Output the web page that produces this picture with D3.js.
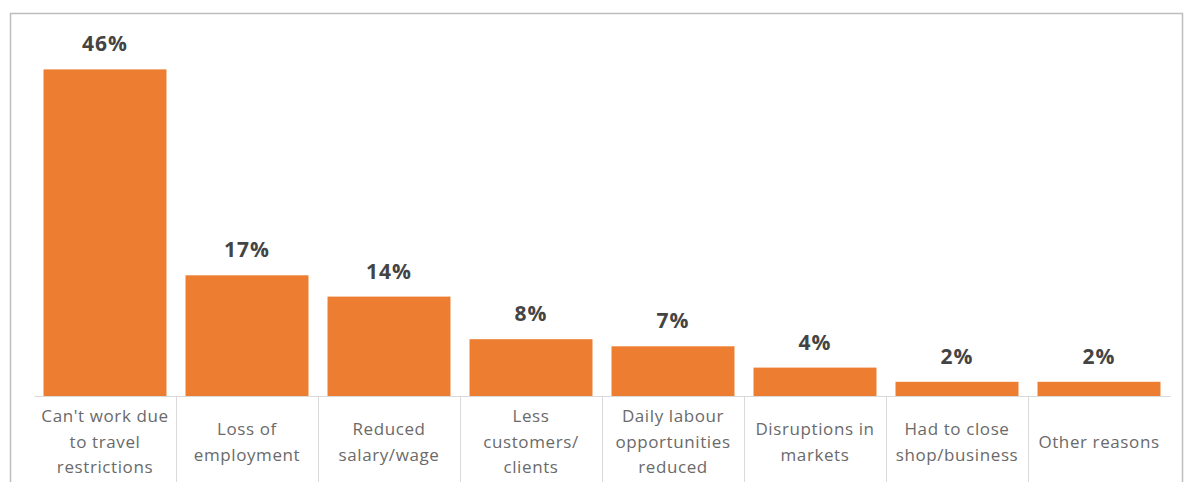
<!DOCTYPE html>
<html>
<head>
<meta charset="utf-8">
<script src="https://cdn.jsdelivr.net/npm/d3@7"></script>
<style>
  html, body { margin: 0; padding: 0; background: #ffffff; }
  svg { display: block; }
</style>
</head>
<body>
<svg id="chart" width="1184" height="482"></svg>
<script>
// Reasons for loss of income (share of respondents)
const categories = [
  "Can't work due\nto travel\nrestrictions",
  "Loss of\nemployment",
  "Reduced\nsalary/wage",
  "Less\ncustomers/\nclients",
  "Daily labour\nopportunities\nreduced",
  "Disruptions in\nmarkets",
  "Had to close\nshop/business",
  "Other reasons"
];
const values = [46, 17, 14, 8, 7, 4, 2, 2];
const valueLabels = ["46%", "17%", "14%", "8%", "7%", "4%", "2%", "2%"];
const yDomain = [0, 50];

const svg = d3.select("#chart");
const W = 1184, H = 482;

// Chart frame
svg.append("rect")
  .attr("x", 10.5).attr("y", 13.5)
  .attr("width", 1172).attr("height", H)
  .attr("fill", "#ffffff")
  .attr("stroke", "#bdbdbd")
  .attr("stroke-width", 1.5);

const plot = { left: 34, right: 1170, top: 41, bottom: 396 };

const x = d3.scaleBand()
  .domain(categories)
  .range([plot.left, plot.right])
  .paddingInner(0.134)
  .paddingOuter(0.067);

const y = d3.scaleLinear()
  .domain(yDomain)
  .range([plot.bottom, plot.top]);

// Bars
svg.append("g")
  .selectAll("rect")
  .data(values)
  .join("rect")
  .attr("x", (d, i) => x(categories[i]))
  .attr("y", d => y(d))
  .attr("width", x.bandwidth())
  .attr("height", d => y(0) - y(d))
  .attr("fill", "#ED7D31");

// Value labels above bars
svg.append("g")
  .selectAll("text")
  .data(values)
  .join("text")
  .attr("x", (d, i) => x(categories[i]) + x.bandwidth() / 2)
  .attr("y", d => y(d) - 18)
  .attr("text-anchor", "middle")
  .attr("font-family", "'Open Sans', sans-serif")
  .attr("font-weight", "bold")
  .attr("font-size", 21)
  .attr("letter-spacing", 1)
  .attr("fill", "#444444")
  .text((d, i) => valueLabels[i]);

// Category axis
const axis = d3.axisBottom(x).tickSize(0).tickFormat("");
const axisG = svg.append("g")
  .attr("transform", `translate(0,${plot.bottom})`)
  .call(axis);
axisG.select(".domain").attr("stroke", "#d9d9d9").attr("stroke-width", 1);

// Divider lines between categories
const step = x.step();
const gap = step * x.paddingInner();
svg.append("g")
  .selectAll("line")
  .data(categories.slice(1))
  .join("line")
  .attr("x1", d => Math.round(x(d) - gap / 2) + 0.5)
  .attr("x2", d => Math.round(x(d) - gap / 2) + 0.5)
  .attr("y1", plot.bottom)
  .attr("y2", H)
  .attr("stroke", "#d9d9d9")
  .attr("stroke-width", 1);

// Wrapped category labels, centred vertically under the axis
const lineH = 25.5;
const labelCenter = 442;
const labels = svg.append("g")
  .selectAll("text")
  .data(categories)
  .join("text")
  .attr("text-anchor", "middle")
  .attr("font-family", "'Open Sans', sans-serif")
  .attr("font-size", 17)
  .attr("letter-spacing", 0.6)
  .attr("fill", "#6a6a6a");

labels.each(function (d) {
  const lines = d.split("\n");
  const cx = x(d) + x.bandwidth() / 2;
  const y0 = labelCenter - (lines.length - 1) / 2 * lineH;
  d3.select(this).selectAll("tspan")
    .data(lines)
    .join("tspan")
    .attr("x", cx)
    .attr("y", (l, j) => y0 + j * lineH)
    .attr("dy", "0.35em")
    .text(l => l);
});
</script>
</body>
</html>
